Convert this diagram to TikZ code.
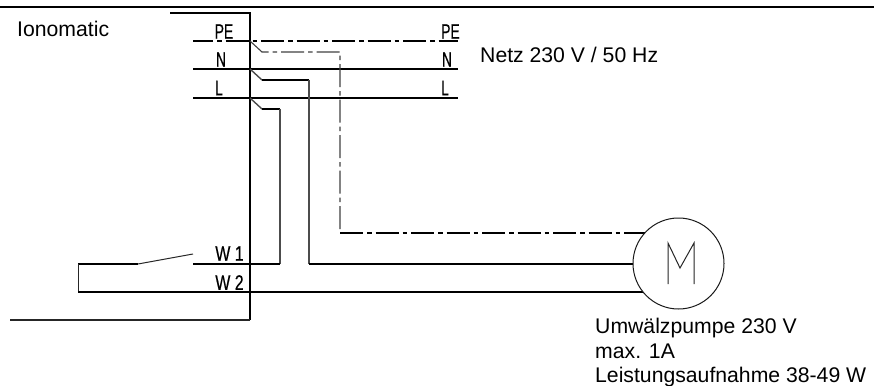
\documentclass[tikz,border=0pt]{standalone}
\usepackage{fontspec}
\setmainfont{Liberation Sans}
\newfontfamily\cadfont[FakeBold=0.5]{Liberation Sans}
\begin{document}
\begin{tikzpicture}[x=1pt,y=-1pt,
  heavy/.style={line width=2pt,draw=black},
  wire/.style={line width=1.8pt,draw=black},
  riser/.style={line width=1.4pt,draw=black!70},
  pethin/.style={line width=1.1pt,draw=black!75,dash pattern=on 23pt off 4pt on 4.5pt off 4pt},
  pemain/.style={line width=2pt,draw=black,dash pattern=on 23pt off 4pt on 4.5pt off 4pt},
  thinline/.style={line width=1pt,draw=black!85},
  motorc/.style={circle,draw=black!90,fill=white,line width=1pt,minimum size=91pt,inner sep=0pt},
  cad/.style={inner sep=0pt,font=\cadfont\fontsize{21}{21}\selectfont,xscale=.66,text=black},
  cadw/.style={cad,xscale=1.15},
  lbl/.style={inner sep=0pt,anchor=base west,font=\fontsize{21.2}{24}\selectfont,text=black}]
\useasboundingbox (0,0) rectangle (874,385);
% junctions and free ends
\coordinate (topL) at (0,7.5); \coordinate (topR) at (874,7.5);
\coordinate (boxA) at (170,12.7); \coordinate (boxB) at (250,12.7);
\coordinate (boxC) at (250,320); \coordinate (boxD) at (10,320);
\coordinate (peL) at (193,41); \coordinate (peJ) at (250,41); \coordinate (peR) at (458,41);
\coordinate (nL) at (193,69); \coordinate (nJ) at (250,69); \coordinate (nR) at (458,69);
\coordinate (lL) at (193,98); \coordinate (lJ) at (250,98); \coordinate (lR) at (458,98);
\coordinate (peK) at (262,52); \coordinate (nK) at (262,80); \coordinate (lK) at (262,109);
\coordinate (peC) at (340,52); \coordinate (peD) at (340,233);
\coordinate (nC) at (309,80); \coordinate (lC) at (280,109);
\coordinate (w1a) at (193,264); \coordinate (w1b) at (280,264); \coordinate (w1c) at (309,264);
\coordinate (sw) at (138,264); \coordinate (swt) at (193,254);
\coordinate (w2l) at (78,292); \coordinate (w1l) at (78,264);
\coordinate (w2r) at (645,292); \coordinate (per) at (645,233); \coordinate (w1r) at (635,264);
% frame
\draw[heavy] (topL) -- (topR);
\draw[heavy] (boxA) -- (boxB) -- (boxC);
\draw[line width=1.3pt,draw=black!85] (boxC) -- (boxD);
% mains
\draw[pemain,dash phase=3pt] (peL) -- (peR);
\draw[heavy] (nL) -- (nR);
\draw[heavy] (lL) -- (lR);
% tails
\draw[pethin] (peJ) -- (peK) -- (peC) -- (peD);
\draw[pemain] (peD) -- (per);
\draw[riser] (nJ) -- (nK);
\draw[wire] (nK) -- (nC);
\draw[riser] (nC) -- (w1c);
\draw[wire] (w1c) -- (w1r);
\draw[riser] (lJ) -- (lK);
\draw[wire] (lK) -- (lC);
\draw[riser] (lC) -- (w1b);
\draw[heavy] (w1b) -- (w1a);
\draw[heavy] (w1l) -- (sw);
\draw[thinline] (sw) -- (swt);
\draw[thinline] (w1l) -- (w2l);
\draw[heavy] (w2l) -- (w2r);
% motor
\node[motorc] (motor) at (678.5,263.5) {};
\coordinate (m1) at (668,284); \coordinate (m2) at (668,243); \coordinate (m3) at (680,268);
\coordinate (m4) at (694,243); \coordinate (m5) at (694,284);
\draw[thinline] (m1) -- (m2) -- (m3) -- (m4) -- (m5);
% labels
\node[lbl] (ion) at (17,37) {Ionomatic};
\node[lbl] (netz) at (480,63) {Netz 230 V / 50 Hz};
\node[lbl] (p1) at (595,333) {Umwälzpumpe 230 V};
\node[lbl] (p2) at (595,358) {max. 1A};
\node[lbl] (p3) at (595,382) {Leistungsaufnahme 38-49 W};
\node[cad] (pe1) at (224,31.5) {PE};
\node[cad] (pe2) at (450.5,31.5) {PE};
\node[cad] (n1) at (221,59.5) {N};
\node[cad] (n2) at (447,59.5) {N};
\node[cad] (l1) at (219,88) {L};
\node[cad] (l2) at (445,88) {L};
\node[cadw] (w1) at (229.5,253.5) {W 1};
\node[cadw] (w2) at (229.5,282.5) {W 2};
\end{tikzpicture}
\end{document}
